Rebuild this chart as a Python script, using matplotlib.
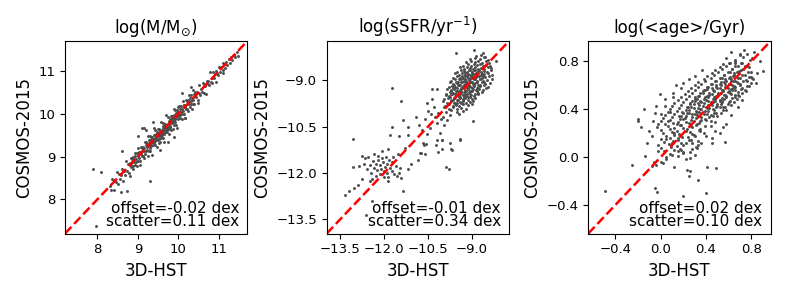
import matplotlib
matplotlib.use('Agg')
from matplotlib import pyplot as plt

# titles, quoted statistics and axis setup for the three panels
titles = [r'log(M/M$_{\odot}$)', r'log(sSFR/yr$^{-1}$)', 'log(<age>/Gyr)']
offsets = ['-0.02', '-0.01', '0.02']
scatters = ['0.11', '0.34', '0.10']
limits = [(7.2, 11.7), (-13.97, -7.73), (-0.64, 0.97)]
ticks = [[8, 9, 10, 11], [-13.5, -12.0, -10.5, -9.0], [-0.4, 0.0, 0.4, 0.8]]

# stellar mass: (3D-HST, COSMOS-2015) pairs
mass_low = [(8.30, 8.31), (8.33, 8.23), (8.37, 8.47), (8.40, 8.23), (8.42, 8.46), (8.45, 8.41), (8.48, 8.64),
            (8.50, 8.37), (8.53, 8.60), (8.55, 8.48), (8.58, 8.56), (8.60, 8.72), (8.63, 8.42), (8.65, 8.67),
            (8.67, 8.56), (8.70, 8.90), (8.72, 8.67), (8.75, 8.83), (8.77, 8.62), (8.80, 8.85),
            (8.81, 8.55), (8.82, 8.81), (8.83, 8.97), (8.84, 8.76), (8.85, 8.94), (8.86, 8.87), (8.87, 8.77),
            (8.88, 8.98), (8.89, 8.72), (8.90, 8.94), (8.91, 8.87), (8.92, 9.08), (8.93, 8.80), (8.94, 9.01),
            (8.95, 8.88), (8.96, 8.94), (8.97, 9.09), (8.98, 8.77), (8.99, 9.01), (9.00, 8.89), (9.01, 9.21),
            (9.02, 8.97), (9.03, 9.11), (9.04, 8.89), (9.05, 9.10), (9.06, 8.80), (9.07, 9.06), (9.08, 9.22),
            (9.09, 9.01), (9.10, 9.19), (9.11, 9.12), (9.12, 9.02), (9.13, 9.23), (9.14, 8.97), (9.15, 9.19),
            (9.16, 9.12), (9.17, 9.33), (9.18, 9.05), (9.19, 9.26), (9.20, 9.13)]
mass_mid = [(9.21, 9.34), (9.22, 9.16), (9.23, 9.29), (9.24, 9.02), (9.25, 9.25), (9.26, 9.49), (9.27, 9.13),
            (9.28, 9.31), (9.29, 9.20), (9.30, 9.47), (9.31, 9.13), (9.32, 9.41), (9.33, 9.31), (9.34, 9.04),
            (9.35, 9.46), (9.36, 9.33), (9.37, 9.42), (9.38, 9.26), (9.39, 9.67), (9.40, 9.32), (9.41, 9.43),
            (9.42, 9.26), (9.43, 9.62), (9.44, 9.39), (9.45, 9.52), (9.46, 9.22), (9.47, 9.57), (9.48, 9.47),
            (9.49, 9.38), (9.50, 9.65), (9.51, 9.31), (9.52, 9.65), (9.53, 9.47), (9.54, 9.60), (9.55, 9.33),
            (9.56, 9.56), (9.57, 9.80), (9.58, 9.44), (9.59, 9.62), (9.60, 9.51), (9.61, 9.78), (9.62, 9.44),
            (9.63, 9.72), (9.64, 9.62), (9.65, 9.35), (9.66, 9.77), (9.67, 9.64), (9.68, 9.73), (9.69, 9.57),
            (9.70, 9.98), (9.71, 9.63), (9.72, 9.74), (9.73, 9.57), (9.74, 9.93), (9.75, 9.70), (9.76, 9.83),
            (9.77, 9.53), (9.78, 9.88), (9.79, 9.78), (9.80, 9.69), (9.81, 9.96), (9.82, 9.62), (9.83, 9.96),
            (9.84, 9.78), (9.85, 9.91), (9.86, 9.64), (9.87, 9.87), (9.88, 10.11), (9.89, 9.75), (9.90, 9.93),
            (9.91, 9.82), (9.92, 10.09), (9.93, 9.75), (9.94, 10.03), (9.95, 9.93), (9.96, 9.66), (9.97, 10.08),
            (9.98, 9.95), (9.99, 10.04), (10.00, 9.88),
            (9.35, 9.38), (9.42, 9.40), (9.48, 9.52), (9.55, 9.50), (9.62, 9.66), (9.68, 9.64), (9.74, 9.76),
            (9.82, 9.80), (9.90, 9.86), (9.30, 9.28), (9.25, 9.30), (9.58, 9.58), (9.66, 9.70), (9.45, 9.44),
            (9.52, 9.55), (9.78, 9.72), (9.86, 9.82), (9.38, 9.34), (9.70, 9.67), (9.95, 9.97),
            (9.23, 9.22), (9.27, 9.30), (9.31, 9.33), (9.33, 9.24), (9.37, 9.36), (9.41, 9.36), (9.44, 9.48),
            (9.47, 9.40), (9.50, 9.50), (9.53, 9.56), (9.56, 9.48), (9.59, 9.54), (9.61, 9.60), (9.64, 9.70),
            (9.67, 9.58), (9.70, 9.72), (9.73, 9.68), (9.76, 9.78), (9.79, 9.70), (9.82, 9.86), (9.85, 9.80),
            (9.88, 9.90), (9.92, 9.88), (9.96, 10.00), (9.28, 9.38), (9.40, 9.50), (9.52, 9.40), (9.64, 9.52),
            (9.76, 9.64), (9.88, 9.98)]
mass_high = [(10.01, 9.97), (10.02, 10.18), (10.03, 9.90), (10.04, 10.11), (10.05, 9.98), (10.06, 10.04),
             (10.07, 10.19), (10.08, 9.87), (10.09, 10.11), (10.10, 9.99), (10.11, 10.31), (10.12, 10.07),
             (10.13, 10.21), (10.14, 9.99), (10.15, 10.20), (10.16, 9.90), (10.17, 10.16), (10.18, 10.32),
             (10.19, 10.11), (10.20, 10.29), (10.21, 10.22), (10.22, 10.12), (10.23, 10.33), (10.24, 10.07),
             (10.25, 10.29), (10.26, 10.22), (10.27, 10.43), (10.28, 10.15), (10.29, 10.36), (10.30, 10.23),
             (10.31, 10.29), (10.32, 10.44), (10.33, 10.12), (10.34, 10.36), (10.35, 10.24), (10.36, 10.56),
             (10.37, 10.32), (10.38, 10.46), (10.39, 10.24), (10.40, 10.45),
             (10.42, 10.50), (10.44, 10.39), (10.46, 10.50), (10.48, 10.32), (10.50, 10.49), (10.52, 10.67),
             (10.54, 10.44), (10.56, 10.57), (10.58, 10.51), (10.60, 10.71), (10.62, 10.49), (10.64, 10.70),
             (10.66, 10.64), (10.68, 10.46), (10.70, 10.77), (10.72, 10.69), (10.74, 10.77), (10.76, 10.67),
             (10.78, 10.97), (10.80, 10.74), (10.82, 10.83), (10.84, 10.72), (10.86, 10.99), (10.88, 10.84),
             (10.90, 10.94), (10.92, 10.75), (10.94, 11.00), (10.96, 10.95), (10.98, 10.90), (11.00, 11.10),
             (11.03, 10.98), (11.06, 11.10), (11.09, 11.02), (11.12, 11.16), (11.15, 11.08), (11.18, 11.22),
             (11.21, 11.15), (11.24, 11.28), (11.27, 11.20), (11.30, 11.33), (11.33, 11.27), (11.36, 11.38),
             (11.40, 11.34), (11.44, 11.45), (11.10, 10.95)]
mass_outliers = [(7.90, 8.70), (8.09, 8.64), (8.58, 8.16), (8.73, 8.19), (9.29, 8.44), (9.10, 9.68), (9.15, 9.66),
                 (8.60, 9.14), (7.97, 7.38), (10.08, 10.49), (9.00, 9.48), (9.20, 9.62), (9.90, 9.45), (9.75, 9.35),
                 (10.16, 9.91), (9.55, 9.15), (10.30, 10.62), (9.38, 9.82), (10.48, 10.26), (10.00, 10.15),
                 (11.46, 11.36), (11.10, 11.20)]

# specific star formation rate
ssfr_blob = [(-8.85, -8.20), (-8.70, -8.17), (-8.55, -8.24),
             (-9.05, -8.30), (-8.88, -8.27), (-8.72, -8.32), (-8.60, -8.26), (-8.45, -8.34),
             (-9.20, -8.40), (-9.02, -8.37), (-8.90, -8.42), (-8.78, -8.36), (-8.66, -8.44), (-8.52, -8.39),
             (-8.40, -8.43),
             (-9.30, -8.53), (-9.15, -8.48), (-9.04, -8.54), (-8.93, -8.46), (-8.83, -8.51), (-8.72, -8.47),
             (-8.62, -8.52), (-8.50, -8.49), (-8.38, -8.54),
             (-9.42, -8.58), (-9.28, -8.63), (-9.17, -8.56), (-9.07, -8.61), (-8.97, -8.64), (-8.88, -8.57),
             (-8.78, -8.62), (-8.68, -8.60), (-8.57, -8.64), (-8.45, -8.57), (-8.33, -8.61),
             (-9.50, -8.72), (-9.38, -8.66), (-9.26, -8.71), (-9.16, -8.74), (-9.06, -8.68), (-8.98, -8.73),
             (-8.89, -8.67), (-8.80, -8.70), (-8.70, -8.74), (-8.60, -8.69), (-8.48, -8.72), (-8.35, -8.66),
             (-9.58, -8.77), (-9.45, -8.82), (-9.34, -8.76), (-9.24, -8.83), (-9.15, -8.79), (-9.06, -8.84),
             (-8.97, -8.78), (-8.88, -8.81), (-8.79, -8.76), (-8.69, -8.83), (-8.58, -8.80), (-8.46, -8.77),
             (-8.30, -8.84),
             (-9.65, -8.93), (-9.52, -8.87), (-9.41, -8.92), (-9.31, -8.94), (-9.22, -8.86), (-9.13, -8.91),
             (-9.04, -8.88), (-8.95, -8.94), (-8.86, -8.89), (-8.77, -8.86), (-8.67, -8.93), (-8.55, -8.90),
             (-8.42, -8.87),
             (-9.70, -9.02), (-9.58, -8.97), (-9.47, -9.04), (-9.37, -8.96), (-9.28, -9.01), (-9.19, -9.03),
             (-9.10, -8.98), (-9.01, -9.04), (-8.92, -8.97), (-8.83, -9.02), (-8.73, -8.96), (-8.62, -9.03),
             (-8.48, -9.00), (-8.30, -8.97),
             (-9.76, -9.07), (-9.63, -9.13), (-9.52, -9.08), (-9.42, -9.14), (-9.33, -9.06), (-9.24, -9.11),
             (-9.15, -9.13), (-9.06, -9.07), (-8.97, -9.12), (-8.88, -9.09), (-8.78, -9.14), (-8.67, -9.06),
             (-8.54, -9.11), (-8.38, -9.08),
             (-9.80, -9.23), (-9.68, -9.17), (-9.57, -9.22), (-9.47, -9.16), (-9.38, -9.24), (-9.29, -9.19),
             (-9.20, -9.21), (-9.11, -9.17), (-9.02, -9.23), (-8.93, -9.18), (-8.83, -9.24), (-8.72, -9.20),
             (-8.60, -9.16), (-8.45, -9.22),
             (-9.84, -9.28), (-9.72, -9.33), (-9.61, -9.27), (-9.51, -9.34), (-9.42, -9.30), (-9.33, -9.26),
             (-9.24, -9.32), (-9.15, -9.29), (-9.06, -9.34), (-8.97, -9.27), (-8.87, -9.31), (-8.76, -9.28),
             (-8.63, -9.33), (-8.50, -9.26),
             (-9.88, -9.43), (-9.75, -9.37), (-9.64, -9.42), (-9.54, -9.44), (-9.45, -9.36), (-9.36, -9.41),
             (-9.27, -9.38), (-9.18, -9.44), (-9.09, -9.39), (-9.00, -9.36), (-8.90, -9.43), (-8.79, -9.40),
             (-8.66, -9.37),
             (-9.90, -9.47), (-9.78, -9.52), (-9.67, -9.46), (-9.57, -9.54), (-9.48, -9.49), (-9.39, -9.53),
             (-9.30, -9.47), (-9.21, -9.51), (-9.12, -9.54), (-9.02, -9.48), (-8.92, -9.52), (-8.80, -9.46),
             (-9.95, -9.62), (-9.82, -9.57), (-9.70, -9.63), (-9.60, -9.58), (-9.50, -9.64), (-9.41, -9.59),
             (-9.32, -9.61), (-9.22, -9.56), (-9.12, -9.63), (-9.01, -9.60), (-8.88, -9.57),
             (-10.00, -9.68), (-9.85, -9.73), (-9.73, -9.67), (-9.62, -9.72), (-9.52, -9.74), (-9.42, -9.69),
             (-9.32, -9.66), (-9.21, -9.73), (-9.08, -9.70), (-8.95, -9.68),
             (-9.92, -9.82), (-9.78, -9.77), (-9.65, -9.83), (-9.54, -9.79), (-9.43, -9.84), (-9.30, -9.78),
             (-9.15, -9.81), (-9.00, -9.77),
             (-9.95, -9.88), (-9.80, -9.93), (-9.66, -9.87), (-9.52, -9.92), (-9.38, -9.89), (-9.20, -9.94),
             (-9.88, -10.02), (-9.70, -9.97), (-9.52, -10.03), (-9.30, -9.98),
             (-9.75, -10.12), (-9.45, -10.08),
             (-9.10, -8.65), (-8.92, -8.65), (-8.75, -8.65), (-9.25, -8.75), (-9.00, -8.75), (-8.85, -8.75),
             (-8.65, -8.78), (-9.35, -8.85), (-9.18, -8.85), (-9.00, -8.85), (-8.82, -8.85), (-8.62, -8.86),
             (-9.45, -8.95), (-9.25, -8.95), (-9.08, -8.96), (-8.90, -8.95), (-8.72, -8.96), (-9.55, -9.05),
             (-9.37, -9.05), (-9.20, -9.05), (-9.02, -9.05), (-8.84, -9.06), (-8.60, -9.05), (-9.60, -9.15),
             (-9.45, -9.15), (-9.28, -9.16), (-9.10, -9.15), (-8.92, -9.15), (-8.72, -9.16), (-9.65, -9.25),
             (-9.50, -9.25), (-9.33, -9.26), (-9.15, -9.25), (-8.98, -9.25), (-8.78, -9.25), (-9.70, -9.35),
             (-9.55, -9.35), (-9.38, -9.35), (-9.20, -9.35), (-9.02, -9.36), (-8.82, -9.35), (-9.72, -9.45),
             (-9.58, -9.45), (-9.40, -9.46), (-9.22, -9.45), (-9.05, -9.45), (-9.75, -9.55), (-9.60, -9.56),
             (-9.43, -9.55), (-9.26, -9.55), (-9.08, -9.55), (-9.65, -9.65), (-9.48, -9.65), (-9.30, -9.65),
             (-9.58, -9.75), (-9.38, -9.75)]
ssfr_tail = [(-10.38, -9.29), (-10.21, -9.29), (-10.52, -9.72), (-10.92, -10.18), (-11.37, -10.28),
             (-11.75, -10.51), (-8.96, -10.31), (-11.18, -10.51), (-11.18, -10.77), (-11.80, -10.78),
             (-11.50, -10.80), (-10.55, -10.75), (-13.06, -10.91), (-10.21, -10.95), (-10.04, -10.95),
             (-9.70, -11.24), (-9.42, -10.89), (-9.88, -11.82), (-9.80, -11.89), (-11.37, -12.59),
             (-12.43, -12.92), (-12.64, -13.38), (-13.34, -12.73), (-13.04, -12.48), (-13.06, -11.82),
             (-12.85, -11.78), (-12.77, -11.46), (-12.66, -11.51), (-11.07, -11.73), (-11.18, -11.89),
             (-10.84, -11.57), (-10.73, -11.35), (-11.30, -11.19), (-11.52, -11.40), (-12.09, -11.30),
             (-11.86, -11.24), (-11.41, -12.16), (-11.86, -12.27), (-12.43, -12.21), (-11.75, -9.26),
             (-11.41, -9.67), (-9.53, -8.10), (-8.93, -8.02), (-8.62, -8.10), (-8.17, -8.39),
             (-10.30, -9.85), (-10.15, -10.05), (-10.05, -10.25), (-10.40, -10.10), (-10.20, -10.40),
             (-9.95, -10.45), (-10.60, -10.25), (-10.45, -10.55), (-10.10, -10.70), (-10.70, -10.60),
             (-10.35, -9.60), (-10.00, -10.20), (-9.85, -10.30), (-10.25, -10.20), (-10.50, -10.00),
             (-10.80, -10.45), (-10.68, -11.03), (-10.57, -11.08), (-10.64, -11.11), (-10.22, -11.11),
             (-10.03, -11.24), (-10.15, -11.33), (-9.74, -11.03), (-9.68, -11.27), (-10.62, -11.40),
             (-10.79, -11.35), (-10.02, -10.92), (-9.40, -10.92)]
ssfr_clump = [(-12.40, -11.62), (-12.30, -11.70), (-12.22, -11.58), (-12.15, -11.75), (-12.05, -11.66),
              (-11.98, -11.80), (-11.90, -11.70), (-12.35, -11.85), (-12.25, -11.92), (-12.12, -11.88),
              (-12.00, -11.95), (-11.92, -12.02), (-11.80, -11.85), (-11.72, -11.95), (-11.65, -12.05),
              (-12.48, -11.75), (-12.55, -11.50), (-12.20, -11.45), (-12.08, -11.52), (-11.95, -11.48),
              (-11.85, -11.58), (-11.75, -11.65), (-11.60, -11.78), (-11.55, -12.10), (-12.45, -12.00),
              (-12.30, -12.10), (-12.15, -12.05), (-12.02, -12.15), (-11.88, -12.12), (-12.60, -11.88),
              (-12.70, -11.70), (-12.35, -11.40), (-11.70, -11.50), (-11.45, -11.85), (-11.50, -12.00),
              (-12.50, -12.25), (-12.75, -12.20), (-12.90, -12.40), (-13.20, -12.60)]

# mass-weighted age
age_core = [(0.70, 0.850), (0.76, 0.862),
            (0.66, 0.815), (0.73, 0.840), (0.81, 0.825),
            (0.60, 0.785), (0.66, 0.805), (0.72, 0.790), (0.79, 0.812),
            (0.55, 0.775), (0.61, 0.787), (0.66, 0.765), (0.71, 0.790), (0.76, 0.760),
            (0.52, 0.750), (0.58, 0.762), (0.63, 0.740), (0.68, 0.765), (0.73, 0.735), (0.78, 0.755),
            (0.48, 0.725), (0.54, 0.737), (0.59, 0.715), (0.63, 0.740), (0.67, 0.710), (0.71, 0.730),
            (0.77, 0.713),
            (0.45, 0.700), (0.51, 0.712), (0.56, 0.690), (0.61, 0.715), (0.65, 0.685), (0.69, 0.705),
            (0.74, 0.688), (0.80, 0.710),
            (0.41, 0.675), (0.47, 0.687), (0.52, 0.665), (0.56, 0.690), (0.60, 0.660), (0.64, 0.680),
            (0.68, 0.663), (0.72, 0.685), (0.78, 0.670),
            (0.38, 0.650), (0.44, 0.662), (0.49, 0.640), (0.54, 0.665), (0.58, 0.635), (0.62, 0.655),
            (0.66, 0.638), (0.70, 0.660), (0.75, 0.645), (0.81, 0.665),
            (0.33, 0.625), (0.39, 0.637), (0.44, 0.615), (0.48, 0.640), (0.52, 0.610), (0.56, 0.630),
            (0.60, 0.613), (0.64, 0.635), (0.68, 0.620), (0.73, 0.640), (0.80, 0.617),
            (0.30, 0.600), (0.36, 0.612), (0.41, 0.590), (0.45, 0.615), (0.49, 0.585), (0.53, 0.605),
            (0.57, 0.588), (0.61, 0.610), (0.65, 0.595), (0.70, 0.615), (0.76, 0.592),
            (0.27, 0.575), (0.33, 0.587), (0.38, 0.565), (0.42, 0.590), (0.46, 0.560), (0.50, 0.580),
            (0.54, 0.563), (0.58, 0.585), (0.62, 0.570), (0.66, 0.590), (0.71, 0.567),
            (0.24, 0.550), (0.30, 0.562), (0.35, 0.540), (0.39, 0.565), (0.43, 0.535), (0.47, 0.555),
            (0.51, 0.538), (0.55, 0.560), (0.59, 0.545), (0.63, 0.565), (0.68, 0.542), (0.74, 0.562),
            (0.21, 0.525), (0.28, 0.537), (0.33, 0.515), (0.37, 0.540), (0.41, 0.510), (0.45, 0.530),
            (0.49, 0.513), (0.53, 0.535), (0.57, 0.520), (0.61, 0.540), (0.66, 0.517), (0.72, 0.537),
            (0.18, 0.500), (0.25, 0.512), (0.30, 0.490), (0.34, 0.515), (0.38, 0.485), (0.42, 0.505),
            (0.46, 0.488), (0.50, 0.510), (0.54, 0.495), (0.58, 0.515), (0.63, 0.492), (0.69, 0.512),
            (0.15, 0.475), (0.22, 0.487), (0.28, 0.465), (0.32, 0.490), (0.36, 0.460), (0.40, 0.480),
            (0.44, 0.463), (0.48, 0.485), (0.52, 0.470), (0.56, 0.490), (0.61, 0.467), (0.67, 0.487),
            (0.12, 0.450), (0.20, 0.462), (0.26, 0.440), (0.30, 0.465), (0.34, 0.435), (0.38, 0.455),
            (0.42, 0.438), (0.46, 0.460), (0.50, 0.445), (0.54, 0.465), (0.59, 0.442), (0.65, 0.462),
            (0.10, 0.425), (0.18, 0.437), (0.24, 0.415), (0.29, 0.440), (0.33, 0.410), (0.37, 0.430),
            (0.41, 0.413), (0.45, 0.435), (0.49, 0.420), (0.53, 0.440), (0.57, 0.417), (0.62, 0.437),
            (0.08, 0.400), (0.16, 0.412), (0.22, 0.390), (0.27, 0.415), (0.31, 0.385), (0.35, 0.405),
            (0.39, 0.388), (0.43, 0.410), (0.47, 0.395), (0.52, 0.415), (0.58, 0.392),
            (0.06, 0.375), (0.14, 0.387), (0.20, 0.365), (0.25, 0.390), (0.30, 0.360), (0.34, 0.380),
            (0.38, 0.363), (0.42, 0.385), (0.47, 0.370), (0.55, 0.390),
            (0.04, 0.350), (0.12, 0.362), (0.18, 0.340), (0.23, 0.365), (0.28, 0.335), (0.32, 0.355),
            (0.36, 0.338), (0.41, 0.360), (0.46, 0.345), (0.53, 0.365),
            (0.02, 0.325), (0.10, 0.337), (0.17, 0.315), (0.22, 0.340), (0.27, 0.310), (0.31, 0.330),
            (0.36, 0.313), (0.43, 0.335),
            (0.00, 0.300), (0.08, 0.312), (0.15, 0.290), (0.20, 0.315), (0.25, 0.285), (0.29, 0.305),
            (0.34, 0.288), (0.40, 0.310), (0.48, 0.295),
            (0.04, 0.275), (0.11, 0.287), (0.17, 0.265), (0.22, 0.290), (0.27, 0.260), (0.32, 0.280),
            (0.39, 0.263),
            (-0.03, 0.250), (0.06, 0.262), (0.12, 0.240), (0.18, 0.265), (0.23, 0.235), (0.28, 0.255),
            (0.35, 0.238), (0.44, 0.260),
            (0.00, 0.225), (0.08, 0.237), (0.14, 0.215), (0.20, 0.240), (0.26, 0.210), (0.34, 0.230),
            (0.02, 0.200), (0.10, 0.212), (0.16, 0.190), (0.22, 0.215), (0.29, 0.185), (0.38, 0.205),
            (0.05, 0.175), (0.12, 0.187), (0.19, 0.165), (0.28, 0.190),
            (0.00, 0.150), (0.08, 0.162), (0.15, 0.140), (0.24, 0.165), (0.33, 0.135),
            (0.03, 0.125), (0.11, 0.137), (0.18, 0.115), (0.27, 0.140),
            (-0.02, 0.100), (0.07, 0.112), (0.14, 0.090), (0.22, 0.115), (0.31, 0.085),
            (0.00, 0.075), (0.09, 0.087), (0.17, 0.065),
            (0.03, 0.050), (0.12, 0.062), (0.20, 0.040), (0.28, 0.065),
            (0.08, 0.025), (0.20, 0.037),
            (0.05, 0.000), (0.15, 0.012), (0.26, -0.010),
            (0.35, 0.47), (0.39, 0.50), (0.43, 0.52), (0.47, 0.50), (0.51, 0.53), (0.55, 0.55), (0.59, 0.58),
            (0.63, 0.60), (0.67, 0.63), (0.44, 0.44), (0.48, 0.47), (0.52, 0.48), (0.56, 0.52), (0.60, 0.55),
            (0.64, 0.58), (0.40, 0.42), (0.36, 0.40), (0.32, 0.38), (0.28, 0.36), (0.46, 0.40), (0.50, 0.43),
            (0.54, 0.46), (0.58, 0.50), (0.62, 0.53), (0.66, 0.56), (0.70, 0.60), (0.37, 0.55), (0.41, 0.57),
            (0.45, 0.58), (0.49, 0.60), (0.53, 0.63), (0.57, 0.65), (0.61, 0.67), (0.65, 0.70), (0.69, 0.72),
            (0.74, 0.76), (0.33, 0.45), (0.29, 0.41), (0.25, 0.37), (0.21, 0.33), (0.44, 0.35), (0.39, 0.32),
            (0.35, 0.30), (0.31, 0.27), (0.49, 0.37), (0.55, 0.42), (0.60, 0.46), (0.68, 0.52), (0.72, 0.58),
            (0.76, 0.64), (0.42, 0.47), (0.47, 0.55), (0.52, 0.58), (0.57, 0.61), (0.62, 0.64), (0.30, 0.50),
            (0.26, 0.45), (0.23, 0.42), (0.19, 0.38), (0.16, 0.34)]
age_outliers = [(0.733, 0.898), (0.822, 0.876), (0.88, 0.80), (0.70, 0.86), (0.367, 0.73), (0.30, 0.68),
                (-0.01, 0.53), (-0.15, 0.40), (-0.20, 0.32), (-0.20, 0.30), (-0.17, 0.25), (-0.04, 0.43),
                (-0.05, 0.37), (0.11, 0.54), (0.11, 0.50), (0.135, 0.60), (0.04, 0.49), (0.04, 0.43),
                (0.795, 0.666), (0.815, 0.65), (0.777, 0.596), (0.655, 0.79), (-0.488, -0.284), (-0.254, -0.066),
                (-0.142, 0.01), (-0.06, -0.04), (-0.04, -0.07), (-0.055, -0.26), (-0.035, -0.29), (0.20, -0.33),
                (0.40, -0.30), (0.23, -0.108), (0.26, -0.12), (0.25, -0.155), (0.326, -0.19), (0.405, -0.08),
                (0.49, -0.093), (-0.08, -0.074), (0.0, -0.04), (0.02, -0.05), (0.567, 0.13), (0.45, 0.16),
                (0.45, 0.117), (-0.10, 0.22), (-0.08, 0.18), (-0.12, 0.12), (-0.02, 0.05), (0.05, -0.02),
                (0.10, 0.02), (0.15, 0.05), (0.32, 0.08), (0.36, 0.12), (0.40, 0.18), (0.48, 0.22), (0.55, 0.25),
                (0.62, 0.35), (0.68, 0.42), (0.72, 0.48), (0.84, 0.62), (0.85, 0.70), (0.58, 0.28), (0.52, 0.20),
                (0.30, 0.02), (0.22, -0.02), (0.12, -0.08), (-0.02, 0.28), (0.00, 0.36), (-0.07, 0.30),
                (0.20, 0.62), (0.25, 0.65), (0.18, 0.58), (0.06, 0.30), (0.08, 0.38), (0.62, 0.88), (0.58, 0.83),
                (0.90, 0.72), (0.75, 0.55), (0.66, 0.50), (0.35, 0.22), (0.28, 0.12), (0.44, 0.30), (0.50, 0.34),
                (0.14, 0.28), (0.05, 0.15), (0.10, 0.12), (0.15, 0.16), (0.20, 0.10), (0.25, 0.14), (0.30, 0.18),
                (0.18, 0.06), (0.26, 0.04), (0.33, 0.10), (0.12, 0.20)]

panels = [mass_low + mass_mid + mass_high + mass_outliers,
          ssfr_blob + ssfr_tail + ssfr_clump,
          age_core + age_outliers]

fig = plt.figure(figsize=(7.89, 2.96), dpi=100)
lefts = [0.0824, 0.4141, 0.7456]

for i in range(3):
    ax = fig.add_axes([lefts[i], 0.2110, 0.2310, 0.6500])
    xs = [p[0] for p in panels[i]]
    ys = [p[1] for p in panels[i]]
    ax.scatter(xs, ys, s=4.5, color='#4d4d4d', linewidths=0)
    lo, hi = limits[i]
    ax.plot([lo, hi], [lo, hi], color='red', ls='--', lw=1.8)
    ax.set_xlim(lo, hi)
    ax.set_ylim(lo, hi)
    ax.set_xticks(ticks[i])
    ax.set_yticks(ticks[i])
    ax.tick_params(labelsize=9.5)
    ax.set_title(titles[i], fontsize=12)
    ax.set_xlabel('3D-HST', fontsize=12)
    ax.set_ylabel('COSMOS-2015', fontsize=12)
    ax.text(0.955, 0.025, 'offset=' + offsets[i] + ' dex\nscatter=' + scatters[i] + ' dex',
            ha='right', va='bottom', fontsize=11, linespacing=0.85, transform=ax.transAxes)

plt.savefig('out.png', dpi=100)
